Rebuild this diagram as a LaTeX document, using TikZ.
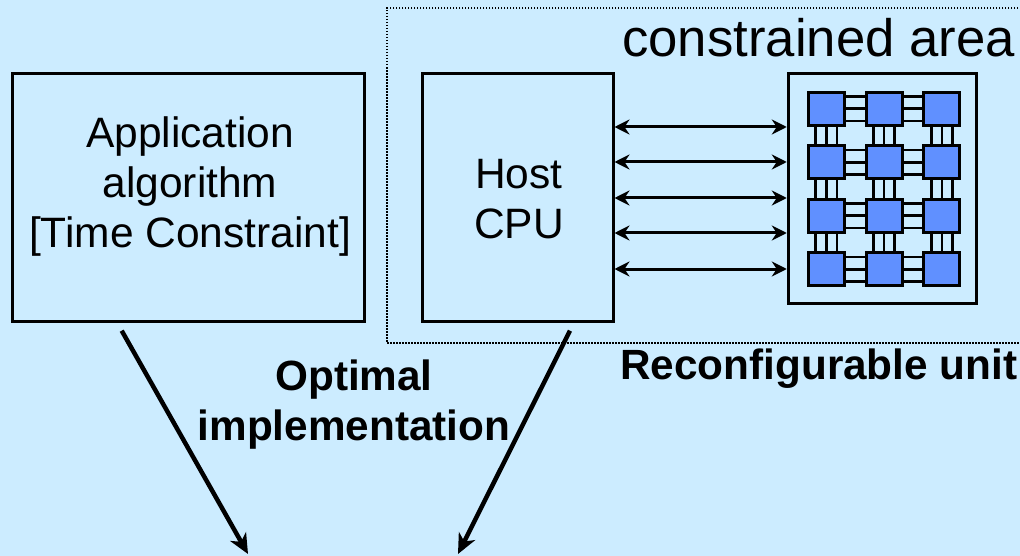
\documentclass[tikz,border=0pt]{standalone}
\usepackage{fontspec}
\setmainfont{Liberation Sans}
\usetikzlibrary{arrows.meta,calc}
\definecolor{bgblue}{RGB}{204,236,255}
\definecolor{peblue}{RGB}{96,144,255}
\begin{document}
\begin{tikzpicture}[x=1pt,y=-1pt,
  box/.style={draw=black,line width=3pt,fill=none,inner sep=0pt},
  pe/.style={draw=black,line width=3pt,fill=peblue,minimum width=36pt,minimum height=33pt,inner sep=0pt},
  link/.style={line width=2.6pt},
  biarrow/.style={line width=3pt,{Stealth[length=15pt,width=15pt,inset=5pt]}-{Stealth[length=15pt,width=15pt,inset=5pt]}},
  bigarrow/.style={line width=4.5pt,-{Stealth[length=20pt,width=18pt,inset=6pt]}},
  areaframe/.style={line width=1.8pt,dash pattern=on 1.5pt off 1.5pt},
  label/.style={font=\fontsize{42.5}{50}\selectfont,align=center,inner sep=0pt},
  boldlabel/.style={font=\fontsize{42.3}{50}\selectfont\bfseries,align=center,inner sep=0pt}]
  % page background
  \fill[bgblue] (0,0) rectangle (1020,556);
  \useasboundingbox (0,0) rectangle (1020,556);
  \clip (0,0) rectangle (1020,556);

  % dotted frame of the area-constrained part
  \draw[areaframe] (1030,8) -- (387,8) -- (387,343) -- (1030,343);
  \node[font=\fontsize{52.7}{60}\selectfont,anchor=base east,inner sep=0pt] (areatitle) at (1015,57) {constrained area};

  % application box
  \node[box,minimum width=352pt,minimum height=247pt] (app) at (188,197.5) {};
  \node[label] (apptext) at (190,187) {Application\\algorithm\\{[}Time Constraint{]}};

  % host processor
  \node[box,minimum width=191pt,minimum height=247pt] (host) at (517.5,197.5) {};
  \node[label] (hosttext) at (519,199) {Host\\CPU};

  % reconfigurable unit
  \node[box,minimum width=188.7pt,minimum height=229pt] (rcu) at (882.6,188.5) {};
  \foreach \r in {1,...,4}
    \foreach \c in {1,...,3}
      \node[pe] (s\r\c) at ({826.3+(\c-1)*57.8},{108.8+(\r-1)*53.5}) {};
  % horizontal links, three wires between neighbours
  \foreach \r in {1,...,4}
    \foreach \c in {1,2} {
      \pgfmathtruncatemacro{\cn}{\c+1}
      \foreach \f in {0.16,0.5,0.84}
        \draw[link] ($(s\r\c.north east)!\f!(s\r\c.south east)$) -- ($(s\r\cn.north west)!\f!(s\r\cn.south west)$);
    }
  % vertical links
  \foreach \r in {1,2,3}
    \foreach \c in {1,...,3} {
      \pgfmathtruncatemacro{\rn}{\r+1}
      \foreach \f in {0.23,0.5,0.77}
        \draw[link] ($(s\r\c.south west)!\f!(s\r\c.south east)$) -- ($(s\rn\c.north west)!\f!(s\rn\c.north east)$);
    }
  \node[boldlabel,anchor=base west] (rcutext) at (620,379.3) {Reconfigurable unit};

  % host <-> reconfigurable unit
  \foreach \y in {127,162,198,233,269}
    \draw[biarrow] (host.east |- 0,\y) -- (rcu.west |- 0,\y);

  % mapping towards the implementation
  \coordinate (appout) at (121.7,330.7);
  \coordinate (hostout) at (570,330.7);
  \coordinate (implL) at (248,554);
  \coordinate (implR) at (458,554);
  \draw[bigarrow] (appout) -- (implL);
  \draw[bigarrow] (hostout) -- (implR);
  \node[boldlabel] (opt) at (354,404.3) {Optimal\\implementation};
\end{tikzpicture}
\end{document}
